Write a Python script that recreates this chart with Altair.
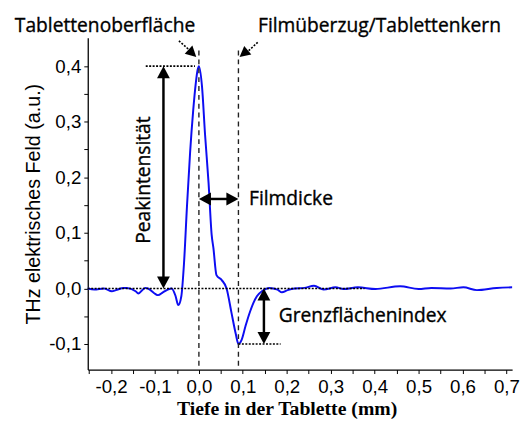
import altair as alt
import pandas as pd

# ---- waveform (depth in mm, THz field in a.u.) ----
depth = [-0.253, -0.238, -0.216, -0.198, -0.189, -0.171, -0.164, -0.144, -0.138,
         -0.122, -0.116, -0.093, -0.082, -0.071, -0.062, -0.053, -0.047, -0.040,
         -0.034, -0.027, -0.020, -0.013, -0.007, -0.003, 0.000, 0.007, 0.014,
         0.022, 0.029, 0.033, 0.040, 0.052, 0.063, 0.074, 0.084, 0.090, 0.097,
         0.106, 0.115, 0.132, 0.145, 0.160, 0.179, 0.189, 0.202, 0.218, 0.240,
         0.262, 0.284, 0.311, 0.329, 0.362, 0.402, 0.458, 0.500, 0.529, 0.573,
         0.602, 0.633, 0.678, 0.713]
field = [0.000, -0.002, 0.000, -0.005, -0.003, 0.001, 0.001, -0.005, -0.009,
         0.001, 0.000, -0.012, -0.007, -0.002, 0.000, -0.014, -0.030, -0.014,
         0.044, 0.150, 0.245, 0.320, 0.370, 0.393, 0.400, 0.364, 0.277,
         0.190, 0.097, 0.073, 0.024, 0.015, 0.000, -0.043, -0.082, -0.100, -0.093,
         -0.068, -0.045, -0.014, -0.004, 0.001, -0.002, -0.007, -0.003, 0.000, 0.001,
         0.005, -0.002, 0.002, -0.001, 0.002, -0.001, 0.004, -0.001, 0.001, 0.000,
         0.002, -0.003, 0.001, 0.002]

x_ticks = [-0.25, -0.2, -0.15, -0.1, -0.05, 0.0, 0.05, 0.1, 0.15, 0.2, 0.25, 0.3,
           0.35, 0.4, 0.45, 0.5, 0.55, 0.6, 0.65, 0.7]
y_ticks = [-0.1, -0.05, 0.0, 0.05, 0.1, 0.15, 0.2, 0.25, 0.3, 0.35, 0.4]

peak_value = 0.4
interface_value = -0.1
surface_depth = 0.0
interface_depth = 0.09

X_DOM = [-0.253, 0.713]
Y_DOM = [-0.146, 0.451]

label_expr = ("abs(datum.value*10 - round(datum.value*10)) < 0.001 ? "
              "(datum.value < -0.001 ? '-' : '') + replace(format(abs(datum.value), '.1f'), '.', ',') : ''")

xs = alt.Scale(domain=X_DOM, nice=False, zero=False)
ys = alt.Scale(domain=Y_DOM, nice=False, zero=False)

AX = alt.Axis(values=x_ticks, labelExpr=label_expr, labelOverlap=False, labelFlush=False,
              labelPadding=4,
              title="Tiefe in der Tablette (mm)",
              titleFont="Liberation Serif", titleFontWeight="bold",
              titleFontSize=20, titleColor="black", titlePadding=3, titleX=202)
AY = alt.Axis(values=y_ticks, labelExpr=label_expr, labelOverlap=False, labelFlush=False,
              labelPadding=3,
              title="THz elektrisches Feld (a.u.)",
              titleFont="Liberation Sans", titleFontWeight="normal",
              titleFontSize=20, titleColor="black", titlePadding=5)


def X(f="x"):
    return alt.X(f"{f}:Q", scale=xs, axis=AX)


def Y(f="y"):
    return alt.Y(f"{f}:Q", scale=ys, axis=AY)


wave = pd.DataFrame({"x": depth, "y": field})

line = alt.Chart(wave).mark_line(color="#0d0df2", strokeWidth=2, interpolate="monotone").encode(
    x=X(), y=Y())

# dotted reference lines
dotted = pd.DataFrame({
    "x": [-0.121, -0.253, interface_depth],
    "x2": [-0.009, 0.377, 0.186],
    "y": [peak_value, 0.0, interface_value],
})
dotted_rules = alt.Chart(dotted).mark_rule(color="black", strokeWidth=1.6, strokeDash=[2, 1.5]).encode(
    x=X(), x2="x2:Q", y=Y())

# dashed vertical lines
dashed = pd.DataFrame({"x": [surface_depth, interface_depth], "y": [0.428, 0.428], "y2": [Y_DOM[0], Y_DOM[0]]})
dashed_rules = alt.Chart(dashed).mark_rule(color="#222222", strokeWidth=1.4, strokeDash=[5, 4]).encode(
    x=X(), y=Y(), y2="y2:Q")

# solid double arrows (shafts)
shafts = pd.DataFrame({
    "x": [-0.0807, surface_depth + 0.01, 0.148],
    "x2": [-0.0807, interface_depth - 0.01, 0.148],
    "y": [0.01, 0.161, -0.01],
    "y2": [0.39, 0.161, -0.09],
})
shaft_rules = alt.Chart(shafts).mark_rule(color="black", strokeWidth=2.5).encode(
    x=X(), x2="x2:Q", y=Y(), y2="y2:Q")

# dotted diagonal pointers
diag = pd.DataFrame({
    "x": [-0.0455, 0.1339],
    "x2": [-0.016, 0.104],
    "y": [0.4455, 0.4428],
    "y2": [0.425, 0.421],
})
diag_rules = alt.Chart(diag).mark_rule(color="black", strokeWidth=1.6, strokeDash=[2, 1.5]).encode(
    x=X(), x2="x2:Q", y=Y(), y2="y2:Q")

# arrow heads (tip at the point, path points up before rotation)
heads = pd.DataFrame({
    "x": [-0.0807, -0.0807, surface_depth, interface_depth, 0.148, 0.148, -0.006, 0.0926],
    "y": [peak_value, 0.0, 0.161, 0.161, 0.0, interface_value, 0.4166, 0.4166],
    "angle": [0, 180, 270, 90, 0, 180, 133, 231],
    "size": [196, 196, 196, 196, 196, 196, 150, 150],
})
head_path = "M0,0L0.93,1.75L-0.93,1.75Z"
head_marks = alt.Chart(heads).mark_point(shape=head_path, filled=True, color="black", opacity=1,
                                         strokeWidth=0).encode(
    x=X(), y=Y(),
    angle=alt.Angle("angle:Q", scale=None), size=alt.Size("size:Q", scale=None))

# texts
texts = pd.DataFrame({
    "x": [-0.419, 0.1345, 0.114, 0.1816],
    "y": [0.461, 0.461, 0.150, -0.061],
    "t": ["Tablettenoberfläche", "Filmüberzug/Tablettenkern", "Filmdicke", "Grenzflächenindex"],
})
text_marks = alt.Chart(texts).mark_text(align="left", baseline="alphabetic", font="Open Sans",
                                        fontSize=19.5, color="black", stroke="black",
                                        strokeWidth=0.35).encode(
    x=X(), y=Y(), text="t:N")

vert = pd.DataFrame({"x": [-0.111], "y": [0.195], "t": ["Peakintensität"]})
vert_text = alt.Chart(vert).mark_text(align="center", baseline="alphabetic", angle=270, font="Open Sans",
                                      fontSize=19.5, color="black", stroke="black",
                                      strokeWidth=0.35).encode(
    x=X(), y=Y(), text="t:N")

chart = alt.layer(
    line, dotted_rules, dashed_rules, shaft_rules, diag_rules, head_marks, text_marks, vert_text
).properties(
    width=431, height=337,
    padding={"left": 81, "top": 27, "right": 8, "bottom": 52},
    autosize=alt.AutoSizeParams(type="none"),
    background="white",
).configure_view(stroke=None).configure_axis(
    grid=False, domainColor="black", domainWidth=1.3, tickColor="black", tickSize=4, tickWidth=1,
    labelFont="Liberation Sans", labelFontSize=19, labelColor="black",
    labelOverlap=False,
)

chart.save("out.html", embed_options={"renderer": "svg", "actions": False})
